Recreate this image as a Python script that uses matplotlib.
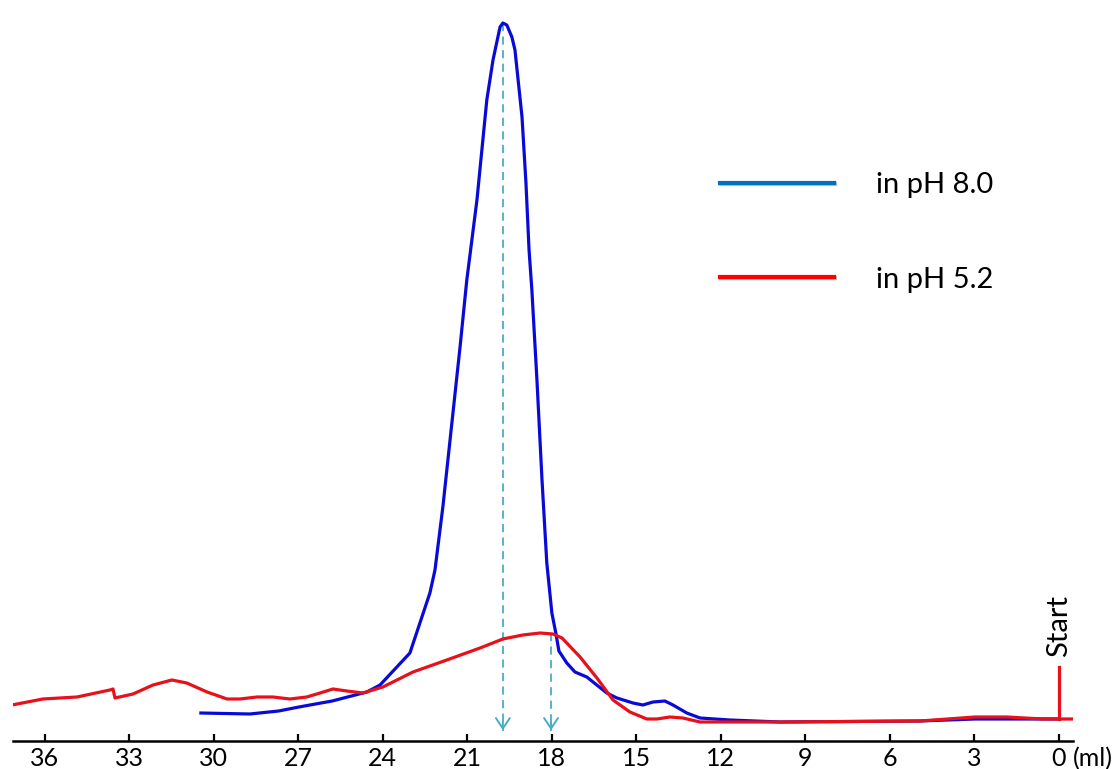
import matplotlib
matplotlib.use("Agg")
import matplotlib.pyplot as plt
import matplotlib.patheffects as pe
from matplotlib.lines import Line2D

plt.rcParams['font.family'] = ['Lato', 'DejaVu Sans']

# elution volume (ml) and absorbance (arbitrary units)
vol_ph8 = [30.46, 28.72, 27.70, 26.98, 25.80, 24.57, 24.10, 23.04, 22.33, 22.15,
           21.87, 21.55, 21.26, 21.02, 20.66, 20.31, 20.09, 19.84, 19.74, 19.60,
           19.42, 19.31, 19.06, 18.92, 18.81, 18.71, 18.53, 18.35, 18.18, 18.00,
           17.86, 17.75, 17.47, 17.18, 16.76, 16.05, 15.69, 15.12, 14.77, 14.41,
           13.99, 13.70, 13.21, 12.74, 11.68, 9.90, 4.93, 2.98, 0.0]
abs_ph8 = [28, 27, 30, 34, 40, 49, 56, 88, 148, 171,
           234, 318, 394, 461, 541, 641, 681, 714, 718, 716,
           704, 691, 624, 558, 491, 451, 361, 261, 178, 128,
           108, 90, 78, 69, 64, 48, 43, 38, 36, 39,
           40, 36, 28, 23, 21, 19, 20, 22, 22]

vol_ph52 = [37.17, 36.07, 34.86, 33.69, 33.58, 33.51, 32.87, 32.16, 31.49, 30.96,
            30.24, 29.53, 29.07, 28.47, 27.90, 27.30, 26.70, 26.23, 25.77, 25.28,
            24.71, 24.00, 22.93, 21.73, 20.55, 19.74, 19.03, 18.42, 17.96, 17.64,
            17.00, 16.40, 15.83, 15.23, 14.63, 14.27, 13.81, 13.35, 12.74, 9.90,
            4.93, 2.98, 1.85, 0.57, 0.0, -0.50]
abs_ph52 = [36, 42, 44, 51, 52, 43, 47, 56, 61, 58,
            49, 42, 42, 44, 44, 42, 44, 48, 52, 50,
            48, 54, 69, 81, 93, 102, 106, 108, 107, 103,
            84, 63, 41, 29, 22, 22, 24, 23, 19, 19,
            20, 24, 24, 22, 22, 22]

# peak positions marked with arrows (ml) and where the dashed line starts
peak_vol = [19.74, 18.03]
peak_top = [718, 108]

start_vol = 0.0
start_mark = [22, 74]

ticks = [36, 33, 30, 27, 24, 21, 18, 15, 12, 9, 6, 3, 0]

fig = plt.figure(figsize=(11.2, 7.69), dpi=100)
ax = fig.add_axes([13 / 1120, 28 / 769, 1060 / 1120, 741 / 769])

ax.plot(vol_ph8, abs_ph8, color='#0a0ad8', lw=2.3, solid_joinstyle='round', zorder=3)
ax.plot(vol_ph52, abs_ph52, color='#e8101a', lw=2.3, solid_joinstyle='round', zorder=4)
ax.plot([start_vol, start_vol], start_mark, color='#e8101a', lw=2.3, zorder=4)

arrow_col = '#4bacc6'
for v, top in zip(peak_vol, peak_top):
    ax.plot([v, v], [top, 10], color=arrow_col, lw=1.3, ls=(0, (4.5, 3)), zorder=2)
    ax.annotate('', xy=(v, 8), xytext=(v, 22),
                arrowprops=dict(arrowstyle='->,head_length=0.75,head_width=0.5',
                                color=arrow_col, lw=1.4))

ax.text(start_vol, 84, 'Start', rotation=90, ha='center', va='bottom', fontsize=21)

ax.set_xlim(37.13, -0.5)
ax.set_ylim(0, 741)
ax.set_xticks(ticks)
ax.set_xticklabels([str(t) for t in ticks])
ax.set_yticks([])
for s in ['left', 'right', 'top']:
    ax.spines[s].set_visible(False)
ax.spines['bottom'].set_linewidth(1.8)
ax.tick_params(axis='x', direction='in', length=5, width=1.6, labelsize=18, pad=4)
ax.annotate('(ml)', xy=(0, 0), xycoords=('data', 'axes fraction'),
            xytext=(10, -4), textcoords='offset points', ha='left', va='top', fontsize=18)

shadow = [pe.SimpleLineShadow(offset=(0.8, -0.8), alpha=0.25), pe.Normal()]
handles = [Line2D([], [], color='#0070c0', lw=3, path_effects=shadow),
           Line2D([], [], color='#ff0000', lw=3, path_effects=shadow)]
fig.legend(handles, ['in pH 8.0', 'in pH 5.2'], loc='upper left',
           bbox_to_anchor=(720 / 1120, 1 - 172 / 769), frameon=False, fontsize=21,
           handlelength=3.9, handletextpad=1.45, labelspacing=2.35, borderpad=0,
           borderaxespad=0)

fig.savefig('out.png', dpi=100)
